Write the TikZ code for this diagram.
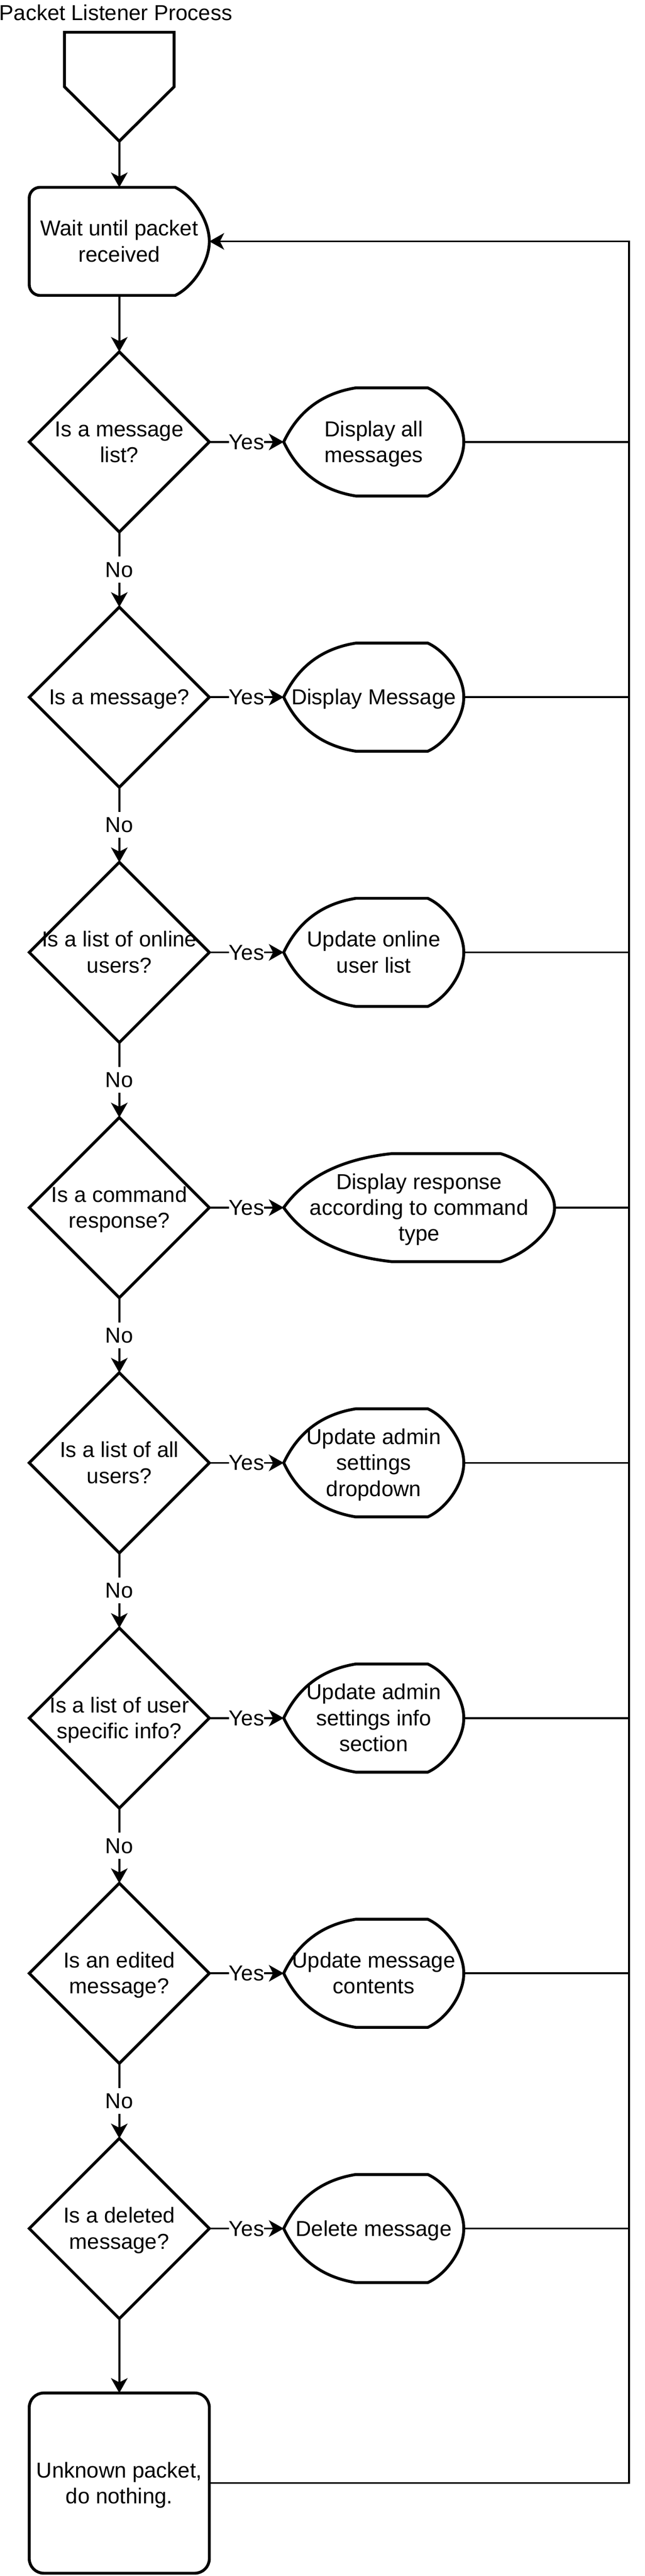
\documentclass[tikz,border=0pt]{standalone}
\usepackage{fontspec}
\setmainfont{Liberation Sans}
\usetikzlibrary{arrows.meta,calc}
\newcommand{\fs}{\fontsize{13.4pt}{16.08pt}\selectfont}
\newcommand{\ds}{\rule[-3.39pt]{0pt}{16.08pt}}
\tikzset{
  shp/.style={line width=1.8pt, line join=miter},
  conn/.style={line width=1.15pt},
  arr/.style={conn, -{Stealth[length=9.2pt,width=10.3pt,inset=2.6pt]}},
  box/.style={inner sep=0pt, outer sep=0pt, align=center, font=\fs},
  lbl/.style={fill=white, inner sep=0pt, font=\fs},
}
% display shape: name, cx, cy, width, text
\newcommand{\dispnode}[5]{%
  \pgfmathsetmacro{\dsL}{#2-#4/2}%
  \pgfmathsetmacro{\dsR}{#2+#4/2}%
  \pgfmathsetmacro{\dsA}{\dsL+0.4*#4}%
  \pgfmathsetmacro{\dsB}{\dsR-0.2*#4}%
  \pgfmathsetmacro{\dsLa}{\dsL+0.08*#4}%
  \pgfmathsetmacro{\dsLb}{\dsL+0.2133*#4}%
  \pgfmathsetmacro{\dsRa}{\dsB+0.1*#4}%
  \pgfmathsetmacro{\dsT}{#3-33.5}%
  \pgfmathsetmacro{\dsD}{#3+33.5}%
  \pgfmathsetmacro{\dsTa}{#3-19.0}%
  \pgfmathsetmacro{\dsTb}{#3-30.15}%
  \pgfmathsetmacro{\dsDa}{#3+19.0}%
  \pgfmathsetmacro{\dsDb}{#3+30.15}%
  \pgfmathsetmacro{\dsTr}{\dsT+5.03}%
  \pgfmathsetmacro{\dsDr}{\dsD-5.03}%
  \pgfmathsetmacro{\dsCu}{#3-13.4}%
  \pgfmathsetmacro{\dsCd}{#3+13.4}%
  \draw[shp] (\dsL,#3) .. controls (\dsLa,\dsTa) and (\dsLb,\dsTb) .. (\dsA,\dsT)
     -- (\dsB,\dsT) .. controls (\dsRa,\dsTr) and (\dsR,\dsCu) .. (\dsR,#3)
     .. controls (\dsR,\dsCd) and (\dsRa,\dsDr) .. (\dsB,\dsD)
     -- (\dsA,\dsD) .. controls (\dsLb,\dsDb) and (\dsLa,\dsDa) .. cycle;
  \node[box, minimum width=#4pt, minimum height=67pt] (#1) at (#2,#3) {#5};
}
% decision: name, cy, text
\newcommand{\decnode}[3]{%
  \node[box, minimum width=111.7pt, minimum height=111.7pt] (#1) at (74,#2) {#3};
  \draw[shp] (#1.north) -- (#1.east) -- (#1.south) -- (#1.west) -- cycle;
}
\begin{document}
\begin{tikzpicture}[x=1pt,y=-1pt]
\fill[white] (0,0) rectangle (400,1596.6);
\useasboundingbox (0,0) rectangle (400,1596.6);

% title
\node[anchor=base west, inner sep=0pt, font=\fs] (title) at (-0.6,12.6) {Packet Listener Process};

% off-page connector
\node[box, minimum width=68pt, minimum height=67.5pt] (start) at (74,53.75) {};
\draw[shp] (start.north west) -- (start.north east) -- (start.east) -- (start.south) -- (start.west) -- cycle;

% wait box
\draw[shp] (108.63,116.1) .. controls (119.24,121.13) and (129.85,136.2) .. (129.85,149.6)
   .. controls (129.85,163.0) and (119.24,178.08) .. (108.63,183.1)
   -- (24.85,183.1) .. controls (21.15,183.1) and (18.15,180.1) .. (18.15,176.4)
   -- (18.15,122.8) .. controls (18.15,119.1) and (21.15,116.1) .. (24.85,116.1) -- cycle;
\node[box, minimum width=111.7pt, minimum height=67pt] (wait) at (74,149.6) {Wait until packet\ds\\received\ds};

% decisions
\decnode{d0}{273.9}{Is a message\ds\\list?\ds}
\decnode{d1}{432.09}{Is a message?\ds}
\decnode{d2}{590.28}{Is a list of online\ds\\users?\ds}
\decnode{d3}{748.47}{Is a command\ds\\response?\ds}
\decnode{d4}{906.66}{Is a list of all\ds\\users?\ds}
\decnode{d5}{1064.85}{Is a list of user\ds\\specific info?\ds}
\decnode{d6}{1223.04}{Is an edited\ds\\message?\ds}
\decnode{d7}{1381.23}{Is a deleted\ds\\message?\ds}

% displays
\dispnode{p0}{231.85}{273.9}{111.7}{Display all\ds\\messages\ds}
\dispnode{p1}{231.85}{432.09}{111.7}{Display Message\ds}
\dispnode{p2}{231.85}{590.28}{111.7}{Update online\ds\\user list\ds}
\dispnode{p3}{260}{748.47}{168}{Display response\ds\\according to command\ds\\type\ds}
\dispnode{p4}{231.85}{906.66}{111.7}{Update admin\ds\\settings\ds\\dropdown\ds}
\dispnode{p5}{231.85}{1064.85}{111.7}{Update admin\ds\\settings info\ds\\section\ds}
\dispnode{p6}{231.85}{1223.04}{111.7}{Update message\ds\\contents\ds}
\dispnode{p7}{231.85}{1381.23}{111.7}{Delete message\ds}

% unknown packet box
\node[box, draw, shp, rounded corners=9pt, minimum width=111.7pt, minimum height=111.7pt] (unk) at (74,1539) {Unknown packet,\ds\\do nothing.\ds};

% right return line
\coordinate (rtop) at (390.3,149.6);
\coordinate (rbot) at (390.3,1539);

% connectors
\draw[arr] (start.south) -- (wait.north);
\draw[arr] (wait.south) -- (d0.north);
\foreach \a/\b in {d0/d1,d1/d2,d2/d3,d3/d4,d4/d5,d5/d6,d6/d7}{
  \draw[arr] (\a.south) -- node[lbl]{No\ds} (\b.north);
}
\draw[arr] (d7.south) -- (unk.north);
\foreach \k in {0,...,7}{
  \draw[arr] (d\k.east) -- node[lbl]{Yes\ds} (p\k.west);
  \draw[conn] (p\k.east) -- (p\k.east -| rtop);
}
\draw[arr] (unk.east) -- (rbot) -- (rtop) -- (wait.east);
\end{tikzpicture}
\end{document}
